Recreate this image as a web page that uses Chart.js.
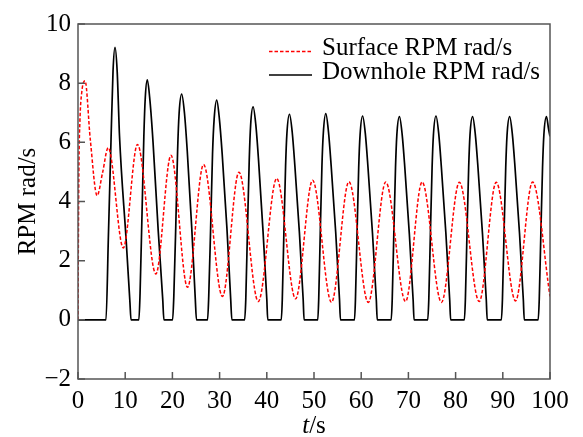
<!DOCTYPE html>
<html>
<head>
<meta charset="utf-8">
<script src="https://cdn.jsdelivr.net/npm/chart.js@4.4.1/dist/chart.umd.min.js"></script>
<style>
  body { margin: 0; background: #fff; }
  canvas { display: block; }
</style>
</head>
<body>
<canvas id="rpmChart" width="583" height="437"></canvas>
<script>
// values (t in s, RPM in rad/s)
var surfaceT = [0, 0.08, 0.18, 0.4, 0.8, 1.5, 2.6, 4.05, 5.2, 6.4, 9.6, 12.6, 16.5, 19.7, 23.2, 26.6,
  30.6, 34.1, 38.2, 42.1, 46.1, 49.7, 53.7, 57.4, 61.5, 65.2, 69.4, 72.9, 77.0, 80.8, 85.0, 88.6,
  92.7, 96.3, 100];
var surfaceV = [0, 2.6, 5.0, 6.7, 7.7, 8.08, 6.1, 4.2, 4.97, 5.82, 2.43, 5.93, 1.55, 5.56, 1.10, 5.25,
  0.79, 4.99, 0.62, 4.78, 0.71, 4.72, 0.59, 4.67, 0.59, 4.66, 0.62, 4.66, 0.59, 4.65, 0.62, 4.65,
  0.64, 4.66, 0.79];

var downholeT = [0, 5.93, 6.42, 7.0, 7.42, 7.84, 8.3, 8.8, 10.2, 11.0, 11.23,
  12.9, 13.15, 13.55, 13.95, 14.25, 14.68, 15.25, 15.9, 17.0, 17.95, 18.2,
  20.05, 20.3, 20.72, 21.1, 21.43, 21.97, 22.55, 23.15, 24.1, 24.85, 25.1,
  27.45, 27.7, 28.1, 28.5, 28.85, 29.39, 29.95, 30.55, 31.55, 32.35, 32.6,
  35.3, 35.55, 35.9, 36.28, 36.58, 37.1, 37.67, 38.25, 39.2, 40.0, 40.2,
  43.07, 43.28, 43.62, 43.98, 44.26, 44.81, 45.38, 45.95, 46.91, 47.71, 47.9,
  50.8, 51.0, 51.33, 51.68, 51.97, 52.5, 53.07, 53.64, 54.6, 55.4, 55.6,
  58.58, 58.78, 59.12, 59.47, 59.76, 60.3, 60.87, 61.44, 62.4, 63.2, 63.4,
  66.36, 66.57, 66.91, 67.27, 67.55, 68.1, 68.67, 69.24, 70.2, 71.0, 71.2,
  74.1, 74.32, 74.66, 75.02, 75.3, 75.85, 76.42, 76.99, 77.95, 78.75, 78.95,
  81.86, 82.07, 82.41, 82.77, 83.05, 83.6, 84.17, 84.74, 85.7, 86.5, 86.7,
  89.7, 89.92, 90.26, 90.62, 90.9, 91.45, 92.02, 92.59, 93.55, 94.35, 94.55,
  97.5, 97.72, 98.06, 98.42, 98.7, 99.25, 99.7, 100];
var downholeV = [0, 0, 2.7, 6.1, 8.4, 9.21, 8.4, 6.2, 2.7, 0.6, 0,
  0, 0.9, 3.5, 6.2, 7.5, 8.11, 7.4, 6.0, 3.0, 0.7, 0,
  0, 0.8, 3.2, 5.7, 7.0, 7.63, 7.0, 5.7, 3.1, 0.7, 0,
  0, 0.8, 3.1, 5.6, 6.8, 7.43, 6.8, 5.6, 3.1, 0.7, 0,
  0, 0.7, 3.0, 5.4, 6.6, 7.2, 6.6, 5.4, 3.0, 0.7, 0,
  0, 0.68, 2.94, 5.2, 6.3, 6.95, 6.35, 5.2, 2.94, 0.68, 0,
  0, 0.7, 2.95, 5.2, 6.3, 6.97, 6.35, 5.2, 2.95, 0.7, 0,
  0, 0.68, 2.9, 5.15, 6.25, 6.89, 6.3, 5.15, 2.9, 0.68, 0,
  0, 0.68, 2.9, 5.15, 6.25, 6.87, 6.28, 5.15, 2.9, 0.68, 0,
  0, 0.68, 2.9, 5.15, 6.25, 6.89, 6.3, 5.15, 2.9, 0.68, 0,
  0, 0.68, 2.9, 5.15, 6.25, 6.87, 6.28, 5.15, 2.9, 0.68, 0,
  0, 0.68, 2.9, 5.15, 6.25, 6.87, 6.28, 5.15, 2.9, 0.68, 0,
  0, 0.68, 2.9, 5.15, 6.25, 6.87, 6.45, 6.2];

var seriesLabels = ["Surface RPM rad/s", "Downhole RPM rad/s"];
var xTitleItalic = "t";
var xTitleRest = "/s";
var yTitle = "RPM rad/s";

var serif = '"Liberation Serif", "Times New Roman", serif';

function toPoints(ts, vs) {
  return ts.map(function (t, i) { return { x: t, y: vs[i] }; });
}

// frame, inward ticks, legend and axis titles
var decorations = {
  id: 'decorations',
  afterDatasetsDraw: function (chart) {
    var ctx = chart.ctx;
    var a = chart.chartArea;
    var xs = chart.scales.x;
    var ys = chart.scales.y;
    ctx.save();
    ctx.strokeStyle = '#555';
    ctx.lineWidth = 1.5;
    ctx.strokeRect(a.left, a.top, a.right - a.left, a.bottom - a.top);
    ctx.beginPath();
    xs.ticks.forEach(function (t) {
      var px = xs.getPixelForValue(t.value);
      ctx.moveTo(px, a.bottom);
      ctx.lineTo(px, a.bottom - 7);
    });
    ys.ticks.forEach(function (t) {
      var py = ys.getPixelForValue(t.value);
      ctx.moveTo(a.left, py);
      ctx.lineTo(a.left + 7, py);
    });
    ctx.stroke();

    // legend
    ctx.font = '25px ' + serif;
    ctx.textBaseline = 'middle';
    ctx.textAlign = 'left';
    chart.data.datasets.forEach(function (ds, i) {
      var ly = a.top + 27.5 + i * 23.5;
      ctx.beginPath();
      ctx.strokeStyle = ds.borderColor;
      ctx.lineWidth = ds.borderWidth;
      ctx.setLineDash(ds.borderDash || []);
      ctx.moveTo(a.left + 191, ly);
      ctx.lineTo(a.left + 234, ly);
      ctx.stroke();
      ctx.setLineDash([]);
      ctx.fillStyle = '#000';
      ctx.fillText(ds.label, a.left + 244, ly - 3);
    });

    // x title with italic t
    ctx.fillStyle = '#000';
    ctx.textBaseline = 'alphabetic';
    ctx.font = 'italic 25px ' + serif;
    var w1 = ctx.measureText(xTitleItalic).width;
    ctx.font = '25px ' + serif;
    var w2 = ctx.measureText(xTitleRest).width;
    var cx = (a.left + a.right) / 2 - (w1 + w2) / 2;
    ctx.font = 'italic 25px ' + serif;
    ctx.fillText(xTitleItalic, cx, 433);
    ctx.font = '25px ' + serif;
    ctx.fillText(xTitleRest, cx + w1, 433);

    // y title
    ctx.translate(28, (a.top + a.bottom) / 2);
    ctx.rotate(-Math.PI / 2);
    ctx.textAlign = 'center';
    ctx.textBaseline = 'middle';
    ctx.fillText(yTitle, 0, 0);
    ctx.restore();
  }
};

new Chart("rpmChart", {
  type: "line",
  data: {
    datasets: [{
      label: seriesLabels[0],
      data: toPoints(surfaceT, surfaceV),
      borderColor: "#ff0000",
      borderWidth: 1.5,
      borderDash: [3.5, 2],
      cubicInterpolationMode: "monotone",
      pointRadius: 0,
      fill: false
    }, {
      label: seriesLabels[1],
      data: toPoints(downholeT, downholeV),
      borderColor: "#000000",
      borderWidth: 1.7,
      cubicInterpolationMode: "monotone",
      pointRadius: 0,
      fill: false
    }]
  },
  options: {
    responsive: false,
    animation: false,
    layout: { padding: { top: 24, right: 33, bottom: 0, left: 0 } },
    plugins: {
      legend: { display: false },
      tooltip: { enabled: false }
    },
    scales: {
      x: {
        type: "linear",
        min: 0,
        max: 100,
        grid: { display: false, drawTicks: false },
        border: { display: false },
        ticks: {
          stepSize: 10,
          color: "#000",
          padding: 7,
          maxRotation: 0,
          font: { family: serif, size: 25 }
        },
        afterFit: function (scale) { scale.height = 58; }
      },
      y: {
        type: "linear",
        min: -2,
        max: 10,
        grid: { display: false, drawTicks: false },
        border: { display: false },
        ticks: {
          stepSize: 2,
          color: "#000",
          padding: 7,
          font: { family: serif, size: 25 },
          callback: function (v) { return String(v).replace("-", "\u2212"); }
        },
        afterFit: function (scale) { scale.width = 78; }
      }
    }
  },
  plugins: [decorations]
});
</script>
</body>
</html>
